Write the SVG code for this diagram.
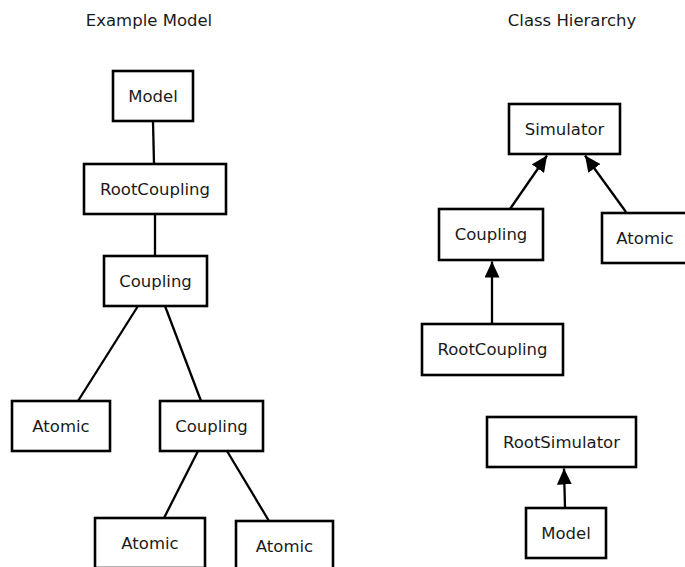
<svg xmlns="http://www.w3.org/2000/svg" width="685" height="567" viewBox="0 0 685 567">
<style>
.box{fill:#fff;stroke:#000;stroke-width:2.6}
.lbl{font-family:"DejaVu Sans",sans-serif;font-size:16.5px;fill:#1a1a1a;text-anchor:middle}
.edge{stroke:#000;stroke-width:2.3;fill:none}
</style>
<defs>
<marker id="tri2" viewBox="0 0 16 15" refX="16" refY="7.5" markerWidth="16" markerHeight="15" orient="auto" markerUnits="userSpaceOnUse">
<path d="M0,0 L16,7.5 L0,15 Z" fill="#000"/>
</marker>
</defs>
<rect width="685" height="567" fill="#fff"/>
<text class="lbl" x="149" y="26">Example Model</text>
<text class="lbl" x="572" y="26">Class Hierarchy</text>
<g id="connectors">
<line class="edge" x1="153" y1="121" x2="154" y2="164"/>
<line class="edge" x1="155" y1="214" x2="155" y2="256"/>
<line class="edge" x1="138" y1="306" x2="78" y2="401"/>
<line class="edge" x1="165" y1="306" x2="201" y2="401"/>
<line class="edge" x1="198" y1="451" x2="164" y2="518"/>
<line class="edge" x1="227" y1="451" x2="269" y2="521"/>
<line class="edge" x1="510" y1="209" x2="547" y2="155.5" marker-end="url(#tri2)"/>
<line class="edge" x1="626" y1="212" x2="585" y2="155.5" marker-end="url(#tri2)"/>
<line class="edge" x1="492" y1="324" x2="492" y2="261.5" marker-end="url(#tri2)"/>
<line class="edge" x1="565" y1="508" x2="564" y2="468.5" marker-end="url(#tri2)"/>
</g>
<g id="ex-model"><rect class="box" x="113" y="71" width="80" height="50"/><text class="lbl" x="153" y="102">Model</text></g>
<g id="ex-rootcoupling"><rect class="box" x="84" y="164" width="142" height="50"/><text class="lbl" x="155" y="195">RootCoupling</text></g>
<g id="ex-coupling1"><rect class="box" x="104" y="256" width="103" height="50"/><text class="lbl" x="155.5" y="287">Coupling</text></g>
<g id="ex-atomic1"><rect class="box" x="12" y="401" width="98" height="50"/><text class="lbl" x="61" y="432">Atomic</text></g>
<g id="ex-coupling2"><rect class="box" x="160" y="401" width="103" height="50"/><text class="lbl" x="211.5" y="432">Coupling</text></g>
<g id="ex-atomic2"><rect class="box" x="95" y="518" width="110" height="50"/><text class="lbl" x="150" y="549">Atomic</text></g>
<g id="ex-atomic3"><rect class="box" x="236" y="521" width="97" height="50"/><text class="lbl" x="284.5" y="552">Atomic</text></g>
<g id="ch-simulator"><rect class="box" x="509" y="104" width="111" height="50"/><text class="lbl" x="564.5" y="135">Simulator</text></g>
<g id="ch-coupling"><rect class="box" x="439" y="209" width="104" height="51"/><text class="lbl" x="491" y="240">Coupling</text></g>
<g id="ch-atomic"><rect class="box" x="602" y="213" width="86" height="50"/><text class="lbl" x="645" y="244">Atomic</text></g>
<g id="ch-rootcoupling"><rect class="box" x="422" y="324" width="141" height="51"/><text class="lbl" x="492.5" y="355">RootCoupling</text></g>
<g id="ch-rootsimulator"><rect class="box" x="487" y="417" width="149" height="50"/><text class="lbl" x="561.5" y="448">RootSimulator</text></g>
<g id="ch-model"><rect class="box" x="526" y="508" width="80" height="50"/><text class="lbl" x="566" y="539">Model</text></g>
</svg>
